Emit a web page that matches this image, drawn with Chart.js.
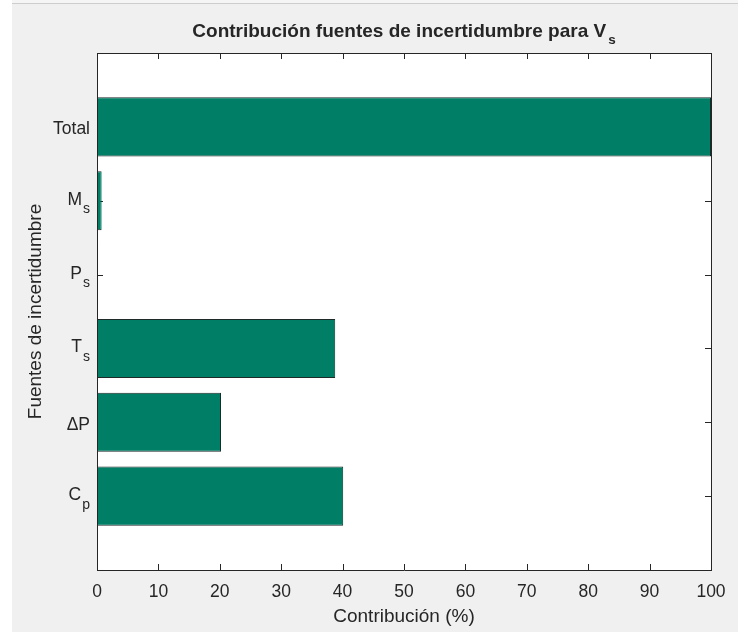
<!DOCTYPE html>
<html>
<head>
<meta charset="utf-8">
<script src="https://cdn.jsdelivr.net/npm/chart.js@4"></script>
<style>
html,body{margin:0;padding:0;background:#f0f0f0;overflow:hidden;}
#wrap{width:738px;height:632px;position:relative;}
canvas{display:block;}
</style>
</head>
<body>
<div id="wrap"><canvas id="c" width="738" height="632"></canvas></div>
<script>
// ---- data ----
const categories = ['C', 'ΔP', 'T', 'P', 'M', 'Total'];      // bottom to top
const categorySubs = ['p', '', 's', 's', 's', ''];            // subscripts
const positions = [1, 2, 3, 4, 5, 6];
const contributions = [40.1, 20.2, 38.8, 0.15, 0.75, 100];    // %
const xTicks = [0, 10, 20, 30, 40, 50, 60, 70, 80, 90, 100];
const titleMain = 'Contribución fuentes de incertidumbre para V';
const titleSub = 's';
const xLabel = 'Contribución (%)';
const yLabel = 'Fuentes de incertidumbre';

const FONT = '"Liberation Sans", Arial, Helvetica, sans-serif';
const AXC = '#262626';

const decor = {
  id: 'decor',
  beforeDraw(chart) {
    const ctx = chart.ctx, a = chart.chartArea;
    ctx.save();
    ctx.fillStyle = '#f0f0f0';
    ctx.fillRect(0, 0, chart.width, chart.height);
    ctx.fillStyle = '#ffffff';
    ctx.fillRect(0, 0, 12, chart.height);
    ctx.fillStyle = '#f5f5f5';
    ctx.fillRect(12, 0, chart.width, 3);
    ctx.fillStyle = '#cdcdcd';
    ctx.fillRect(12, 3, chart.width, 1);
    ctx.fillStyle = '#ffffff';
    ctx.fillRect(a.left, a.top, a.right - a.left, a.bottom - a.top);
    ctx.restore();
  },
  beforeDatasetsDraw(chart) {
    const ctx = chart.ctx, a = chart.chartArea;
    const xs = chart.scales.x, ys = chart.scales.y;
    ctx.save();
    ctx.strokeStyle = AXC;
    ctx.lineWidth = 1;
    ctx.beginPath();
    xTicks.forEach(v => {
      const px = Math.round(xs.getPixelForValue(v)) + 0.5;
      ctx.moveTo(px, a.bottom); ctx.lineTo(px, a.bottom - 6);
      ctx.moveTo(px, a.top); ctx.lineTo(px, a.top + 6);
    });
    positions.forEach(p => {
      const py = Math.round(ys.getPixelForValue(p)) + 0.5;
      ctx.moveTo(a.left, py); ctx.lineTo(a.left + 6, py);
      ctx.moveTo(a.right, py); ctx.lineTo(a.right - 6, py);
    });
    ctx.stroke();
    ctx.restore();
  },
  afterDraw(chart) {
    const ctx = chart.ctx, a = chart.chartArea;
    const ys = chart.scales.y;
    ctx.save();
    // box top and right
    ctx.strokeStyle = AXC;
    ctx.lineWidth = 1;
    ctx.beginPath();
    ctx.moveTo(Math.round(a.left) + 0.5, Math.round(a.top) + 0.5);
    ctx.lineTo(Math.round(a.right) + 0.5, Math.round(a.top) + 0.5);
    ctx.lineTo(Math.round(a.right) + 0.5, Math.round(a.bottom) + 0.5);
    ctx.stroke();
    // y tick labels with subscripts
    ctx.fillStyle = AXC;
    ctx.textBaseline = 'alphabetic';
    ctx.textAlign = 'left';
    const rightX = a.left - 7;
    positions.forEach((p, i) => {
      const py = ys.getPixelForValue(p);
      const main = categories[i], sub = categorySubs[i];
      if (sub) {
        ctx.font = '14px ' + FONT;
        const sw = ctx.measureText(sub).width;
        ctx.font = '17.5px ' + FONT;
        const mw = ctx.measureText(main).width;
        const mx = rightX - sw - 1 - mw;
        ctx.fillText(main, mx, py + 4);
        ctx.font = '14px ' + FONT;
        ctx.fillText(sub, rightX - sw, py + 12.5);
      } else {
        ctx.font = '17.5px ' + FONT;
        const mw = ctx.measureText(main).width;
        ctx.fillText(main, rightX - mw, py + 7.5);
      }
    });
    // title
    const cx = (a.left + a.right) / 2;
    ctx.font = 'bold 19px ' + FONT;
    const tw = ctx.measureText(titleMain).width;
    ctx.font = 'bold 13.5px ' + FONT;
    const tsw = ctx.measureText(titleSub).width;
    const total = tw + 2 + tsw;
    const tx = cx - total / 2;
    ctx.font = 'bold 19px ' + FONT;
    ctx.fillText(titleMain, tx, 37);
    ctx.font = 'bold 13.5px ' + FONT;
    ctx.fillText(titleSub, tx + tw + 2, 44);
    ctx.restore();
  }
};

new Chart(document.getElementById('c'), {
  type: 'bar',
  data: {
    datasets: [{
      data: positions.map((p, i) => ({ x: contributions[i], y: p })),
      backgroundColor: '#007e66',
      borderColor: '#1e2a27',
      borderWidth: 1,
      borderSkipped: false,
      barPercentage: 0.8,
      categoryPercentage: 1.0
    }]
  },
  options: {
    indexAxis: 'y',
    responsive: false,
    animation: false,
    devicePixelRatio: 1,
    layout: { padding: { top: 53, right: 27, left: 0, bottom: 0 } },
    plugins: { legend: { display: false }, tooltip: { enabled: false }, title: { display: false } },
    scales: {
      x: {
        type: 'linear',
        position: 'bottom',
        min: 0, max: 100,
        afterBuildTicks(scale) { scale.ticks = xTicks.map(v => ({ value: v })); },
        afterFit(scale) { scale.height = 62; },
        ticks: {
          font: { family: FONT, size: 17.5 },
          color: AXC,
          padding: 12,
          maxRotation: 0,
          autoSkip: false
        },
        grid: { display: false, drawTicks: false },
        border: { display: true, color: AXC, width: 1 },
        title: {
          display: true,
          text: xLabel,
          color: AXC,
          font: { family: FONT, size: 19 },
          padding: { top: 0, bottom: 4 }
        }
      },
      y: {
        type: 'linear',
        position: 'left',
        min: 0, max: 7,
        offset: false,
        afterFit(scale) { scale.width = 97; },
        ticks: { display: false, stepSize: 1 },
        grid: { display: false, drawTicks: false },
        border: { display: true, color: AXC, width: 1 },
        title: {
          display: true,
          text: yLabel,
          color: AXC,
          font: { family: FONT, size: 19 },
          padding: { top: 24, bottom: 0 }
        }
      }
    }
  },
  plugins: [decor]
});
</script>
</body>
</html>
